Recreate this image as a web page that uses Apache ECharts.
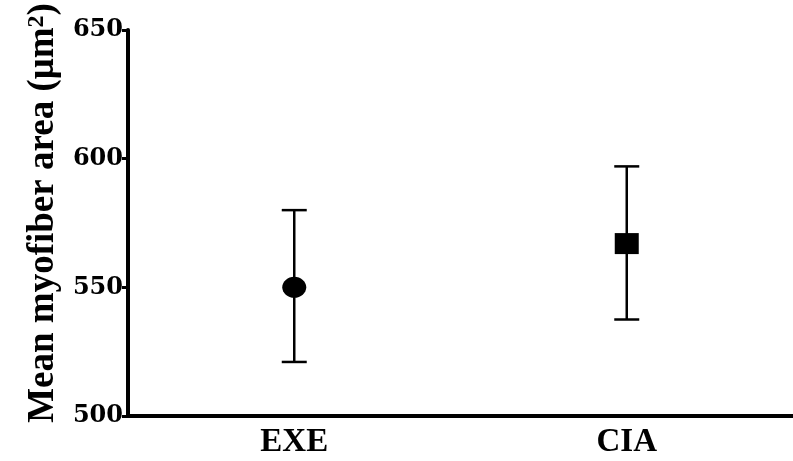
<!DOCTYPE html>
<html>
<head>
<meta charset="utf-8">
<script src="https://cdn.jsdelivr.net/npm/echarts@6/dist/echarts.min.js"></script>
<style>html,body{margin:0;padding:0;background:#fff}#c{width:793px;height:461px}</style>
</head>
<body>
<div id="c"></div>
<script>
const categories = ['EXE', 'CIA'];
const means = [550, 567];
const lowerErr = [521, 537.5];
const upperErr = [580, 597];
const symbols = ['circle', 'rect'];
const yTicks = [500, 550, 600, 650];

const chart = echarts.init(document.getElementById('c'), null, {renderer: 'canvas'});
const serif = 'Liberation Serif, Times New Roman, serif';
const option = {
  animation: false,
  grid: {left: 128, width: 670, top: 30, bottom: 45, containLabel: false},
  xAxis: {
    type: 'category',
    data: categories,
    boundaryGap: true,
    axisLine: {lineStyle: {color: '#000', width: 4}},
    axisTick: {alignWithLabel: true, length: 7, lineStyle: {color: '#000', width: 3}},
    axisLabel: {color: '#000', fontFamily: serif, fontWeight: 'bold', fontSize: 33, margin: 10}
  },
  yAxis: {
    type: 'value',
    min: yTicks[0],
    max: yTicks[yTicks.length - 1],
    interval: 50,
    splitLine: {show: false},
    axisLine: {show: true, lineStyle: {color: '#000', width: 4}},
    axisTick: {show: true, length: 6, lineStyle: {color: '#000', width: 3}},
    axisLabel: {color: '#000', fontFamily: 'DejaVu Serif', fontWeight: 'bold', fontSize: 24, margin: 5},
    name: '{a|Mean myofiber area (μm}{s|2}{a|)}',
    nameLocation: 'middle',
    nameGap: 64,
    nameTextStyle: {
      padding: [0, 0, 0, 20],
      rich: {
        a: {fontFamily: serif, fontWeight: 'bold', fontSize: 37, color: '#000'},
        s: {fontFamily: serif, fontWeight: 'bold', fontSize: 24, color: '#000', verticalAlign: 'top', padding: [0, 0, 14, 0]}
      }
    }
  },
  series: [
    {
      type: 'custom',
      data: categories.map((c, i) => [i, lowerErr[i], upperErr[i]]),
      renderItem: function (params, api) {
        const x = api.value(0);
        const lo = api.coord([x, api.value(1)]);
        const hi = api.coord([x, api.value(2)]);
        const hw = 12.5;
        const st = {stroke: '#000', lineWidth: 2.5};
        return {
          type: 'group',
          children: [
            {type: 'line', shape: {x1: lo[0], y1: lo[1], x2: hi[0], y2: hi[1]}, style: st},
            {type: 'line', shape: {x1: lo[0] - hw, y1: lo[1], x2: lo[0] + hw, y2: lo[1]}, style: st},
            {type: 'line', shape: {x1: hi[0] - hw, y1: hi[1], x2: hi[0] + hw, y2: hi[1]}, style: st}
          ]
        };
      },
      z: 2
    },
    {
      type: 'scatter',
      data: means.map((m, i) => ({value: [i, m], symbol: symbols[i]})),
      symbolSize: [24, 21],
      itemStyle: {color: '#000', opacity: 1},
      z: 3
    }
  ]
};
chart.setOption(option);
</script>
</body>
</html>
